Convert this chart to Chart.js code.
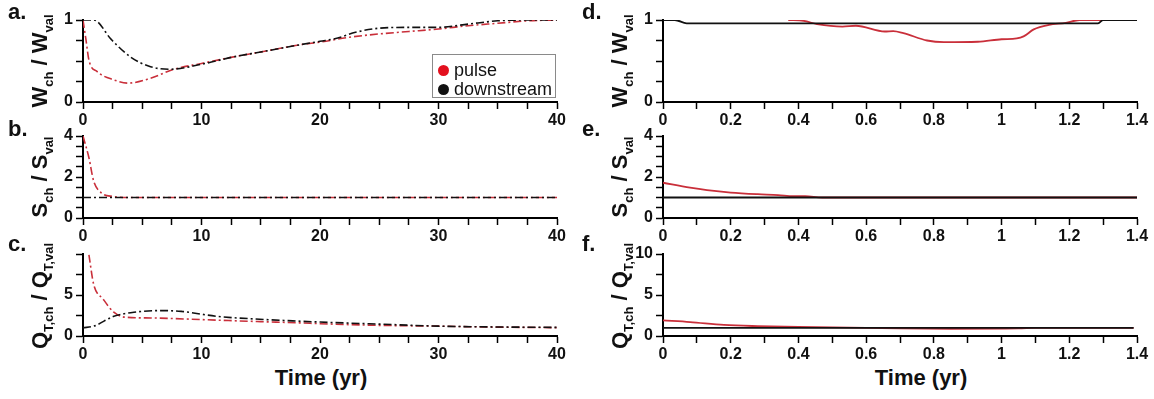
<!DOCTYPE html>
<html>
<head>
<meta charset="utf-8">
<script src="https://cdn.jsdelivr.net/npm/chart.js@4.4.1/dist/chart.umd.min.js"></script>
<style>
  body { margin: 0; background: #fff; }
  #wrap { position: relative; width: 1154px; height: 399px; overflow: hidden; font-family: 'Liberation Sans', Arial, sans-serif; color: #111; }
  canvas { position: absolute; }
  .ytitle { position: absolute; font-weight: bold; font-size: 22px; line-height: 1; white-space: nowrap;
            transform: translate(-50%, -50%) rotate(-90deg); }
  .ytitle sub { font-size: 13px; vertical-align: -6px; line-height: 0; }
  .letter { position: absolute; font-weight: bold; font-size: 22px; line-height: 1; }
  .xtitle { position: absolute; font-weight: bold; font-size: 22px; line-height: 1; white-space: nowrap; transform: translateX(-50%); }
  .legend { position: absolute; left: 432px; top: 54px; width: 122px; height: 42px; border: 1px solid #8a8a8a; background: #fff; font-size: 18px; }
  .legend div { position: absolute; left: 21px; line-height: 1; white-space: nowrap; }
  .legend span { position: absolute; left: -16px; top: 4px; width: 11px; height: 11px; border-radius: 50%; }
</style>
</head>
<body>
<div id="wrap">
  <canvas id="pa" width="580" height="130" style="left:0;top:0"></canvas>
  <canvas id="pb" width="580" height="130" style="left:0;top:116px"></canvas>
  <canvas id="pc" width="580" height="130" style="left:0;top:234px"></canvas>
  <canvas id="pd" width="574" height="130" style="left:580px;top:0"></canvas>
  <canvas id="pe" width="574" height="130" style="left:580px;top:116px"></canvas>
  <canvas id="pf" width="574" height="130" style="left:580px;top:234px"></canvas>

  <div class="letter" style="left:8px;top:1px">a.</div>
  <div class="letter" style="left:8px;top:118px">b.</div>
  <div class="letter" style="left:8px;top:233px">c.</div>
  <div class="letter" style="left:582px;top:1px">d.</div>
  <div class="letter" style="left:582px;top:118px">e.</div>
  <div class="letter" style="left:582px;top:233px">f.</div>

  <div class="ytitle" style="left:40px;top:61px">W<sub>ch</sub> / W<sub>val</sub></div>
  <div class="ytitle" style="left:40px;top:177px">S<sub>ch</sub> / S<sub>val</sub></div>
  <div class="ytitle" style="left:40px;top:296px">Q<sub>T,ch</sub> / Q<sub>T,val</sub></div>
  <div class="ytitle" style="left:620px;top:61px">W<sub>ch</sub> / W<sub>val</sub></div>
  <div class="ytitle" style="left:620px;top:177px">S<sub>ch</sub> / S<sub>val</sub></div>
  <div class="ytitle" style="left:620px;top:296px">Q<sub>T,ch</sub> / Q<sub>T,val</sub></div>

  <div class="xtitle" style="left:321px;top:367px">Time (yr)</div>
  <div class="xtitle" style="left:921px;top:367px">Time (yr)</div>

  <div class="legend">
    <div style="top:6px"><span style="background:#e3101e"></span>pulse</div>
    <div style="top:25px"><span style="background:#111"></span>downstream</div>
  </div>
</div>

<script>
// ---- data ----
// a. channel width, long term (yr)
const aPulseT = [0, 0.25, 0.5, 1.2, 2.6, 3.8, 5.7, 7.7, 10, 12.7, 15, 18.4, 20, 22.5, 25, 27.5, 30, 32.5, 35, 37.5, 40];
const aPulseY = [1.0, 0.76, 0.51, 0.37, 0.27, 0.23, 0.29, 0.40, 0.47, 0.55, 0.61, 0.70, 0.73, 0.79, 0.83, 0.86, 0.89, 0.93, 0.96, 0.99, 1.0];
const aDownT = [0, 0.9, 2.4, 4.0, 5.7, 7.4, 10, 12.7, 15, 18.4, 20, 21.5, 23, 25, 27.5, 30, 32.5, 35, 37.5, 40];
const aDownY = [1.0, 1.0, 0.76, 0.55, 0.43, 0.40, 0.46, 0.55, 0.61, 0.70, 0.74, 0.78, 0.85, 0.90, 0.91, 0.91, 0.95, 0.99, 1.0, 1.0];

// b. slope, long term
const bPulseT = [0, 0.5, 0.9, 1.5, 2.5, 4, 40];
const bPulseY = [4.0, 2.94, 1.8, 1.25, 1.05, 1.0, 1.0];
const bDownT = [0, 40];
const bDownY = [1.0, 1.0];

// c. transport capacity, long term
const cPulseT = [0.5, 0.9, 1.7, 2.6, 3.5, 5.7, 10, 15, 18.4, 20, 25, 30, 35, 40];
const cPulseY = [9.9, 6.3, 4.5, 2.9, 2.3, 2.2, 2.0, 1.75, 1.6, 1.5, 1.3, 1.2, 1.08, 1.02];
const cDownT = [0, 0.9, 2.6, 4.3, 6.6, 8.3, 11.3, 15.5, 18.4, 20, 25, 30, 35, 40];
const cDownY = [1.0, 1.2, 2.4, 2.9, 3.1, 3.0, 2.4, 2.0, 1.8, 1.7, 1.45, 1.2, 1.1, 1.05];

// d. channel width, first 1.4 yr
const dPulseT = [0.37, 0.415, 0.455, 0.53, 0.57, 0.655, 0.68, 0.71, 0.78, 0.83, 0.93, 1.0, 1.045, 1.065, 1.095, 1.14, 1.19, 1.23, 1.4];
const dPulseY = [1.0, 0.99, 0.95, 0.92, 0.93, 0.86, 0.865, 0.84, 0.75, 0.73, 0.735, 0.765, 0.775, 0.80, 0.885, 0.94, 0.965, 1.0, 1.0];
const dDownT = [0, 0.035, 0.07, 1.285, 1.30, 1.4];
const dDownY = [1.0, 1.0, 0.96, 0.96, 1.0, 1.0];

// e. slope, first 1.4 yr
const ePulseT = [0, 0.08, 0.13, 0.2, 0.28, 0.34, 0.385, 0.42, 0.47, 1.4];
const ePulseY = [1.72, 1.48, 1.36, 1.24, 1.16, 1.12, 1.06, 1.06, 1.0, 1.0];
const eDownT = [0, 1.4];
const eDownY = [1.0, 1.0];

// f. transport capacity, first 1.4 yr
const fPulseT = [0, 0.08, 0.18, 0.28, 0.4, 0.6, 0.7, 0.85, 1.05, 1.1, 1.39];
const fPulseY = [1.9, 1.7, 1.35, 1.2, 1.1, 1.0, 0.92, 0.88, 0.92, 1.0, 1.0];
const fDownT = [0, 1.39];
const fDownY = [1.0, 1.0];

// tick labels that are written out
const longXLabels = [0, 10, 20, 30, 40];
const shortXLabels = [0, 0.2, 0.4, 0.6, 0.8, 1, 1.2, 1.4];
const wLabels = [0, 1];
const sLabels = [0, 2, 4];
const qLabelsLeft = [0, 5];
const qLabelsRight = [0, 5, 10];

const RED = '#c92f3a';
const BLACK = '#111';

function pts(xs, ys) {
  return xs.map((x, i) => ({ x: x, y: ys[i] }));
}

function hasLabel(list, v) {
  return list.some(l => Math.abs(l - v) < 1e-6);
}

function line(xs, ys, color, dashed) {
  return {
    data: pts(xs, ys),
    borderColor: color,
    borderWidth: dashed ? 1.6 : 1.8,
    borderDash: dashed ? [8, 3, 2, 3] : [],
    pointRadius: 0,
    cubicInterpolationMode: 'monotone',
    fill: false
  };
}

const tickFont = { family: "'Liberation Sans', Arial, sans-serif", size: 16, weight: 'bold' };

function makePanel(id, opt) {
  const canvas = document.getElementById(id);
  new Chart(canvas, {
    type: 'line',
    data: { datasets: opt.datasets },
    options: {
      responsive: false,
      animation: false,
      devicePixelRatio: 1,
      layout: { padding: { left: 0, top: 20, right: opt.right, bottom: 0 } },
      plugins: { legend: { display: false }, tooltip: { enabled: false } },
      scales: {
        x: {
          type: 'linear',
          min: 0, max: opt.xMax,
          afterFit: s => { s.height = 28; },
          border: { display: true, color: '#000', width: 2 },
          grid: { display: true, drawOnChartArea: false, drawTicks: true, tickLength: 7, tickColor: '#000', tickWidth: 1.5 },
          ticks: {
            stepSize: opt.xStep, autoSkip: false, maxRotation: 0, padding: 2,
            color: '#111', font: tickFont,
            callback: v => hasLabel(opt.xLabels, v) ? String(+v.toFixed(1)) : ''
          }
        },
        y: {
          type: 'linear',
          min: 0, max: opt.yMax,
          afterFit: s => { s.width = 83; },
          border: { display: true, color: '#000', width: 2 },
          grid: { display: true, drawOnChartArea: false, drawTicks: true, tickLength: 7, tickColor: '#000', tickWidth: 1.5 },
          ticks: {
            stepSize: opt.yStep, autoSkip: false, padding: 3,
            color: '#111', font: tickFont,
            callback: v => hasLabel(opt.yLabels, v) ? String(v) : ''
          }
        }
      }
    }
  });
}

makePanel('pa', { xMax: 40, xStep: 2.5, xLabels: longXLabels, yMax: 1, yStep: 0.25, yLabels: wLabels, right: 23,
  datasets: [line(aDownT, aDownY, BLACK, true), line(aPulseT, aPulseY, RED, true)] });
makePanel('pb', { xMax: 40, xStep: 2.5, xLabels: longXLabels, yMax: 4, yStep: 0.5, yLabels: sLabels, right: 23,
  datasets: [line(bDownT, bDownY, BLACK, true), line(bPulseT, bPulseY, RED, true)] });
makePanel('pc', { xMax: 40, xStep: 2.5, xLabels: longXLabels, yMax: 10, yStep: 2.5, yLabels: qLabelsLeft, right: 23,
  datasets: [line(cDownT, cDownY, BLACK, true), line(cPulseT, cPulseY, RED, true)] });
makePanel('pd', { xMax: 1.4, xStep: 0.1, xLabels: shortXLabels, yMax: 1, yStep: 0.25, yLabels: wLabels, right: 17,
  datasets: [line(dDownT, dDownY, BLACK, false), line(dPulseT, dPulseY, RED, false)] });
makePanel('pe', { xMax: 1.4, xStep: 0.1, xLabels: shortXLabels, yMax: 4, yStep: 0.5, yLabels: sLabels, right: 17,
  datasets: [line(eDownT, eDownY, BLACK, false), line(ePulseT, ePulseY, RED, false)] });
makePanel('pf', { xMax: 1.4, xStep: 0.1, xLabels: shortXLabels, yMax: 10, yStep: 2.5, yLabels: qLabelsRight, right: 17,
  datasets: [line(fDownT, fDownY, BLACK, false), line(fPulseT, fPulseY, RED, false)] });
</script>
</body>
</html>
